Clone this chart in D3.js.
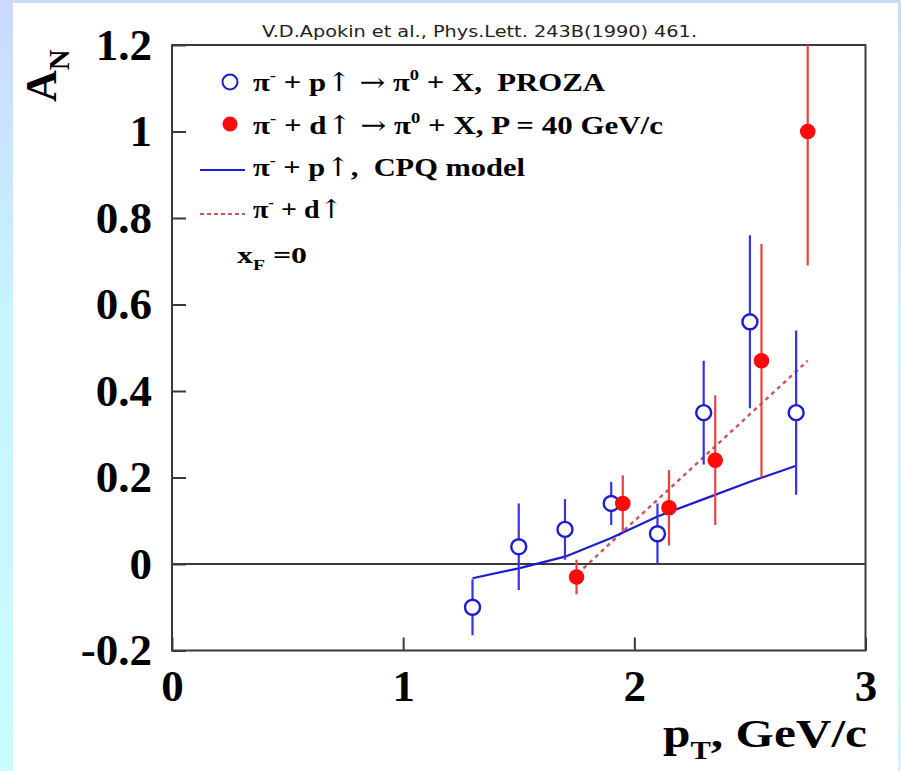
<!DOCTYPE html>
<html>
<head>
<meta charset="utf-8">
<script src="https://cdn.jsdelivr.net/npm/d3@7"></script>
<style>
  html, body { margin: 0; padding: 0; }
  body { width: 901px; height: 771px; overflow: hidden; }
  text { white-space: pre; }
</style>
</head>
<body>
<svg id="chart" width="901" height="771"></svg>
<script>
// pi- + p(pol) -> pi0 + X, PROZA (open circles)
const ptProton = [1.3, 1.5, 1.7, 1.9, 2.1, 2.3, 2.5, 2.7];
const anProton = [-0.10, 0.04, 0.08, 0.14, 0.07, 0.35, 0.56, 0.35];
const errProton = [0.065, 0.10, 0.07, 0.05, 0.07, 0.12, 0.20, 0.19];

// pi- + d(pol) -> pi0 + X, P = 40 GeV/c (filled circles)
const ptDeuteron = [1.75, 1.95, 2.15, 2.35, 2.55, 2.75];
const anDeuteron = [-0.03, 0.14, 0.13, 0.24, 0.47, 1.00];
const errDeuteron = [0.04, 0.065, 0.087, 0.15, 0.27, 0.31];

// CPQ model curves
const cpqProtonPt = [1.3, 1.5, 1.7, 1.9, 2.1, 2.3, 2.5, 2.7];
const cpqProtonAn = [-0.033, -0.01, 0.017, 0.06, 0.11, 0.15, 0.19, 0.227];
const cpqDeuteronPt = [1.78, 1.95, 2.15, 2.35, 2.55, 2.75];
const cpqDeuteronAn = [-0.01, 0.075, 0.173, 0.272, 0.371, 0.47];

// axis ticks
const xTicks = [0, 1, 2, 3];
const xTickLabels = ["0", "1", "2", "3"];
const yTicks = [-0.2, 0, 0.2, 0.4, 0.6, 0.8, 1.0, 1.2];
const yTickLabels = ["-0.2", "0", "0.2", "0.4", "0.6", "0.8", "1", "1.2"];

const BLUE = "#1c1cd2";
const BLUE_BAR = "#3434e0";
const RED = "#ff0a0a";
const RED_BAR = "#ea4040";
const DASH_RED = "#cc5555";
const AXIS = "#3a3a3a";
const SERIF = "'Liberation Serif', 'Times New Roman', serif";
const ARROW_FONT = "'DejaVu Serif', 'DejaVu Sans', serif";

const svg = d3.select("#chart");

// background frame
const defs = svg.append("defs");
const grad = defs.append("linearGradient").attr("id", "bg")
  .attr("x1", 0).attr("y1", 0).attr("x2", 0).attr("y2", 1);
grad.append("stop").attr("offset", 0).attr("stop-color", "#cbd9ff");
grad.append("stop").attr("offset", 0.4).attr("stop-color", "#c6f4ff");
grad.append("stop").attr("offset", 1).attr("stop-color", "#c8fcff");
svg.append("rect").attr("width", 901).attr("height", 771).attr("fill", "url(#bg)");
svg.append("rect").attr("x", 13).attr("y", 3).attr("width", 885).attr("height", 768).attr("fill", "#ffffff");

const plot = { left: 172, right: 865.5, top: 45, bottom: 650.5 };
const x = d3.scaleLinear().domain([0, 3]).range([plot.left, plot.right]);
const y = d3.scaleLinear().domain([-0.2, 1.2]).range([plot.bottom, plot.top]);

defs.append("clipPath").attr("id", "plotclip").append("rect")
  .attr("x", plot.left).attr("y", plot.top)
  .attr("width", plot.right - plot.left).attr("height", plot.bottom - plot.top);

// y axis (ticks point inward)
const yAxis = svg.append("g").attr("transform", `translate(${plot.left},0)`)
  .call(d3.axisLeft(y).tickValues(yTicks)
    .tickFormat((d, i) => yTickLabels[i])
    .tickSizeInner(-14).tickSizeOuter(0).tickPadding(20));
yAxis.select(".domain").remove();
yAxis.selectAll(".tick line").attr("stroke", AXIS).attr("stroke-width", 2);
yAxis.selectAll(".tick text").attr("font-family", SERIF).attr("font-weight", "bold")
  .attr("font-size", 45).attr("fill", "#000");

// x axis
const xAxis = svg.append("g").attr("transform", `translate(0,${plot.bottom})`)
  .call(d3.axisBottom(x).tickValues(xTicks)
    .tickFormat((d, i) => xTickLabels[i])
    .tickSizeInner(-13).tickSizeOuter(0).tickPadding(19));
xAxis.select(".domain").remove();
xAxis.selectAll(".tick line").attr("stroke", AXIS).attr("stroke-width", 2);
xAxis.selectAll(".tick text").attr("font-family", SERIF).attr("font-weight", "bold")
  .attr("font-size", 45).attr("fill", "#000");

// frame
svg.append("rect")
  .attr("x", plot.left).attr("y", plot.top)
  .attr("width", plot.right - plot.left).attr("height", plot.bottom - plot.top)
  .attr("fill", "none").attr("stroke", AXIS).attr("stroke-width", 2);

// zero line
svg.append("line")
  .attr("x1", plot.left).attr("x2", plot.right)
  .attr("y1", y(0)).attr("y2", y(0))
  .attr("stroke", AXIS).attr("stroke-width", 2);

const g = svg.append("g").attr("clip-path", "url(#plotclip)");

const line = d3.line().x(d => x(d[0])).y(d => y(d[1]));

// model curves
g.append("path")
  .datum(cpqDeuteronPt.map((p, i) => [p, cpqDeuteronAn[i]]))
  .attr("d", line).attr("fill", "none")
  .attr("stroke", DASH_RED).attr("stroke-width", 2.4).attr("stroke-dasharray", "4,4");
g.append("path")
  .datum(cpqProtonPt.map((p, i) => [p, cpqProtonAn[i]]))
  .attr("d", line).attr("fill", "none")
  .attr("stroke", BLUE).attr("stroke-width", 2.2);

// error bars
const protonData = ptProton.map((p, i) => ({ p, a: anProton[i], e: errProton[i] }));
const deuteronData = ptDeuteron.map((p, i) => ({ p, a: anDeuteron[i], e: errDeuteron[i] }));

g.selectAll(".ebp").data(protonData).join("line").attr("class", "ebp")
  .attr("x1", d => x(d.p)).attr("x2", d => x(d.p))
  .attr("y1", d => y(d.a + d.e)).attr("y2", d => y(d.a - d.e))
  .attr("stroke", BLUE_BAR).attr("stroke-width", 2.2);
g.selectAll(".ebd").data(deuteronData).join("line").attr("class", "ebd")
  .attr("x1", d => x(d.p)).attr("x2", d => x(d.p))
  .attr("y1", d => y(d.a + d.e)).attr("y2", d => y(d.a - d.e))
  .attr("stroke", RED_BAR).attr("stroke-width", 2.2);

// markers
g.selectAll(".mp").data(protonData).join("circle").attr("class", "mp")
  .attr("cx", d => x(d.p)).attr("cy", d => y(d.a)).attr("r", 7.5)
  .attr("fill", "#fff").attr("stroke", BLUE).attr("stroke-width", 2.4);
g.selectAll(".md").data(deuteronData).join("circle").attr("class", "md")
  .attr("cx", d => x(d.p)).attr("cy", d => y(d.a)).attr("r", 7.8)
  .attr("fill", RED);

// title
svg.append("text")
  .attr("x", 262).attr("y", 37)
  .attr("font-family", "'DejaVu Sans', sans-serif").attr("font-size", 16)
  .attr("textLength", 435).attr("lengthAdjust", "spacingAndGlyphs")
  .attr("fill", "#222")
  .text("V.D.Apokin et al., Phys.Lett. 243B(1990) 461.");

// rich text helper: segments with optional superscript / subscript / arrow glyphs,
// stretched horizontally to the given width
function richText(parent, xPos, yPos, size, width, segs) {
  const t = parent.append("text").attr("x", xPos).attr("y", yPos)
    .attr("font-family", SERIF).attr("font-weight", "bold")
    .attr("font-size", size).attr("fill", "#000");
  let shift = 0;
  segs.forEach(s => {
    let target = 0, fs = size;
    if (s.sup) { target = -size * 0.42; fs = size * 0.6; }
    if (s.sub) { target = size * 0.3; fs = size * 0.62; }
    const ts = t.append("tspan").attr("dy", target - shift).attr("font-size", fs).text(s.t);
    if (s.arrow) ts.attr("font-weight", "normal").attr("font-family", ARROW_FONT);
    shift = target;
  });
  if (width) t.attr("textLength", width).attr("lengthAdjust", "spacingAndGlyphs");
  return t;
}

// legend
const leg = svg.append("g");
leg.append("circle").attr("cx", 230).attr("cy", 82).attr("r", 7.5)
  .attr("fill", "#fff").attr("stroke", BLUE).attr("stroke-width", 2);
leg.append("circle").attr("cx", 230).attr("cy", 124).attr("r", 7.5).attr("fill", RED);
leg.append("line").attr("x1", 200).attr("x2", 245).attr("y1", 170).attr("y2", 170)
  .attr("stroke", BLUE).attr("stroke-width", 2);
leg.append("line").attr("x1", 200).attr("x2", 245).attr("y1", 214).attr("y2", 214)
  .attr("stroke", DASH_RED).attr("stroke-width", 1.8).attr("stroke-dasharray", "4,3");

const LS = 26;
richText(leg, 253, 91, LS, 352, [
  { t: "\u03c0" }, { t: "-", sup: true }, { t: " + p" }, { t: "\u2191", arrow: true },
  { t: " " }, { t: "\u2192", arrow: true }, { t: " \u03c0" }, { t: "0", sup: true },
  { t: " + X,  PROZA" }
]);
richText(leg, 253, 134, LS, 410, [
  { t: "\u03c0" }, { t: "-", sup: true }, { t: " + d" }, { t: "\u2191", arrow: true },
  { t: " " }, { t: "\u2192", arrow: true }, { t: " \u03c0" }, { t: "0", sup: true },
  { t: " + X, P = 40 GeV/c" }
]);
richText(leg, 253, 176, LS, 272, [
  { t: "\u03c0" }, { t: "-", sup: true }, { t: " + p" }, { t: "\u2191", arrow: true },
  { t: ",  CPQ model" }
]);
richText(leg, 253, 218, LS, 90, [
  { t: "\u03c0" }, { t: "-", sup: true }, { t: " + d" }, { t: "\u2191", arrow: true }
]);
richText(leg, 237, 263, 24, 70, [
  { t: "x" }, { t: "F", sub: true }, { t: " =0" }
]);

// axis titles
const yt = svg.append("text")
  .attr("transform", "translate(56,102) rotate(-90)")
  .attr("font-family", SERIF).attr("font-weight", "bold").attr("font-size", 44).attr("fill", "#000");
yt.append("tspan").text("A");
yt.append("tspan").attr("dy", 13).attr("font-size", 29).text("N");

const xt = richText(svg, 867, 747, 40, 204, [
  { t: "p" }, { t: "T", sub: true }, { t: ", GeV/c" }
]);
xt.attr("text-anchor", "end");
</script>
</body>
</html>
